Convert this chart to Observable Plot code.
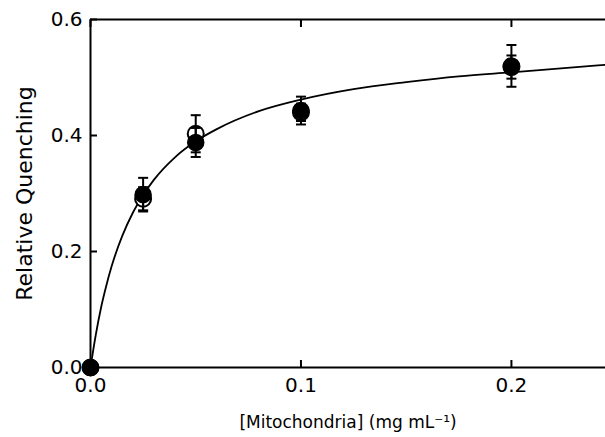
<!DOCTYPE html>
<html><head><meta charset="utf-8">
<script src="https://cdn.jsdelivr.net/npm/d3@7"></script>
<script src="https://cdn.jsdelivr.net/npm/@observablehq/plot@0.6"></script>
<style>body{margin:0;background:#fff;} svg{display:block;}</style>
</head><body><div id="chart"></div>
<script>
// Data
const concentrations = [0, 0.025, 0.05, 0.1, 0.2];
const filledQuench = [0, 0.298, 0.388, 0.443, 0.520];
const filledErr = [0, 0.029, 0.025, 0.024, 0.036];
const openQuench = [0, 0.291, 0.403, 0.440, 0.518];
const openErr = [0, 0.020, 0.032, 0.015, 0.020];
// fitted curve
const fitX = [0, 0.0025, 0.005, 0.0075, 0.01, 0.015, 0.02, 0.025, 0.03, 0.04, 0.05, 0.06, 0.08, 0.1, 0.125, 0.15, 0.175, 0.2, 0.225, 0.245];
const fitY = [0, 0.056, 0.103, 0.141, 0.174, 0.226, 0.266, 0.297, 0.323, 0.362, 0.390, 0.411, 0.442, 0.462, 0.480, 0.492, 0.502, 0.509, 0.516, 0.522];
const xTicks = [0, 0.1, 0.2];
const yTicks = [0, 0.2, 0.4, 0.6];
const xTickLabels = ["0.0", "0.1", "0.2"];
const yTickLabels = ["0.0", "0.2", "0.4", "0.6"];

const filled = concentrations.map((x, i) => ({x, y: filledQuench[i], lo: filledQuench[i] - filledErr[i], hi: filledQuench[i] + filledErr[i], e: filledErr[i]}));
const open = concentrations.map((x, i) => ({x, y: openQuench[i], lo: openQuench[i] - openErr[i], hi: openQuench[i] + openErr[i], e: openErr[i]}));
const fit = fitX.map((x, i) => ({x, y: fitY[i]}));
const bars = [...open, ...filled].filter(d => d.e > 0);
const caps = bars.flatMap(d => [{x: d.x, y: d.lo}, {x: d.x, y: d.hi}]);
const xLab = xTicks.map((v, i) => ({v, t: xTickLabels[i]}));
const yLab = yTicks.map((v, i) => ({v, t: yTickLabels[i]}));

const capSymbol = {draw(ctx, size) { const w = Math.sqrt(size / Math.PI); ctx.moveTo(-w, 0); ctx.lineTo(w, 0); }};
const font = "DejaVu Sans, Verdana, sans-serif";

const plot = Plot.plot({
  width: 605,
  height: 437,
  marginLeft: 90,
  marginRight: 0,
  marginTop: 19,
  marginBottom: 70,
  style: {fontFamily: font, color: "black", background: "white"},
  x: {domain: [0, 0.2447]},
  y: {domain: [0, 0.6]},
  marks: [
    Plot.ruleX([0], {stroke: "black", strokeWidth: 2}),
    Plot.ruleY([0, 0.6], {stroke: "black", strokeWidth: 2}),
    Plot.axisY(yTicks, {tickSize: 7, dx: 7, text: null, strokeWidth: 2, label: null}),
    Plot.axisX(xTicks, {tickSize: 7, dy: -7, text: null, strokeWidth: 2, label: null}),
    Plot.axisX(xTicks, {anchor: "top", tickSize: 7, dy: 7, text: null, strokeWidth: 2, label: null}),
    Plot.text(yLab, {y: "v", text: "t", frameAnchor: "left", textAnchor: "end", dx: -8, fontSize: "20px", fill: "black"}),
    Plot.text(xLab, {x: "v", text: "t", frameAnchor: "bottom", lineAnchor: "top", dy: 10, fontSize: "20px", fill: "black"}),
    Plot.text(["Relative Quenching"], {frameAnchor: "left", textAnchor: "middle", rotate: -90, dx: -66, fontSize: 22, fill: "black"}),
    Plot.text(["[Mitochondria] (mg mL⁻¹)"], {frameAnchor: "bottom", textAnchor: "middle", dy: 60, fontSize: 17, fill: "black"}),
    Plot.line(fit, {x: "x", y: "y", stroke: "black", strokeWidth: 1.8, curve: "monotone-x"}),
    Plot.dot(open, {x: "x", y: "y", r: 8, fill: "white", stroke: "black", strokeWidth: 2}),
    Plot.ruleX(bars, {x: "x", y1: "lo", y2: "hi", stroke: "black", strokeWidth: 2}),
    Plot.dot(caps, {x: "x", y: "y", r: 5, symbol: capSymbol, stroke: "black", strokeWidth: 2, fill: "none"}),
    Plot.dot(filled, {x: "x", y: "y", r: 8, fill: "black", stroke: "black"})
  ]
});
document.getElementById("chart").appendChild(plot);
</script>
</body></html>
